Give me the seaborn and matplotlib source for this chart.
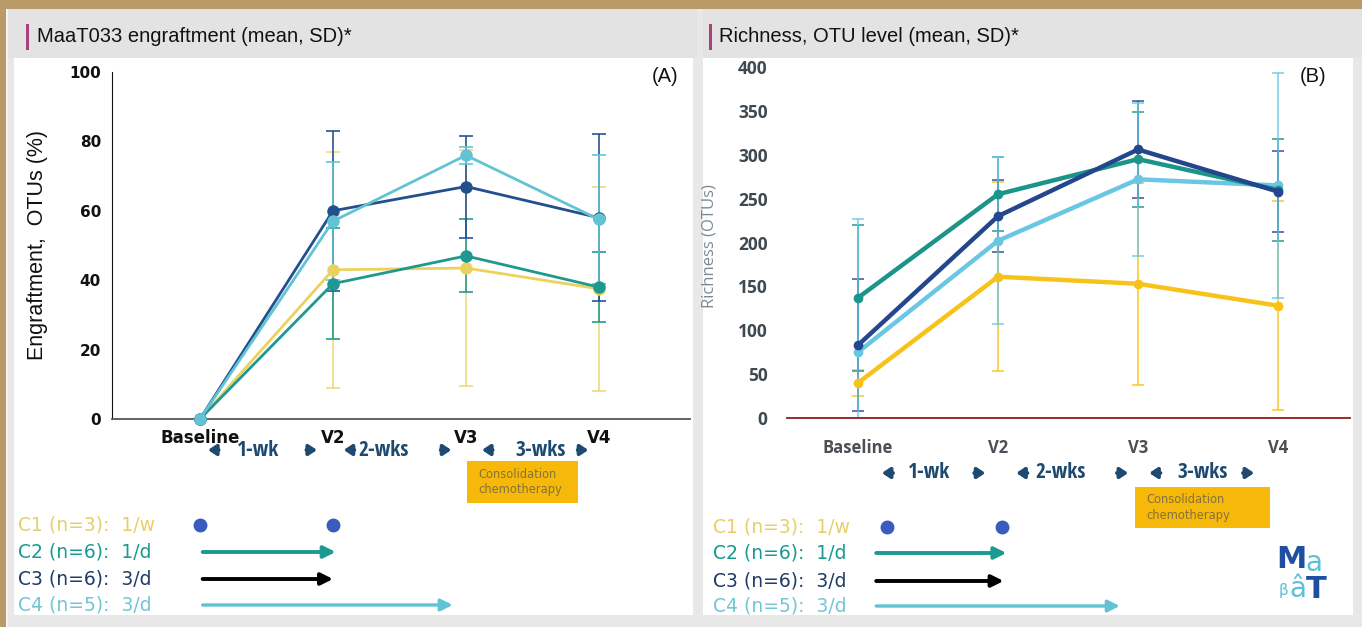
import numpy as np
import pandas as pd
import matplotlib
matplotlib.use("Agg")
import matplotlib.pyplot as plt
import matplotlib.transforms as mtransforms
from matplotlib.patches import Rectangle
from matplotlib import font_manager
import seaborn as sns

# ---------------- data ----------------
visits = ["Baseline", "V2", "V3", "V4"]
cohorts = ["C1", "C2", "C3", "C4"]

# Panel A: engraftment (%) mean and SD
engr_c1 = [0, 43, 43.5, 37.5]
engr_c2 = [0, 39, 47, 38]
engr_c3 = [0, 60, 67, 58]
engr_c4 = [0, 57, 76, 57.5]
engr_sd_c1 = [0, 34, 34, 29.5]
engr_sd_c2 = [0, 16, 10.5, 10]
engr_sd_c3 = [0, 23, 14.7, 24]
engr_sd_c4 = [0, 17, 2.5, 18.5]

# Panel B: richness (OTUs) mean and SD
rich_c1 = [40, 161, 153, 128]
rich_c2 = [137, 255, 295, 260]
rich_c3 = [83, 230, 306, 258]
rich_c4 = [75, 202, 272, 265]
rich_sd_c1 = [15, 108, 115, 119]
rich_sd_c2 = [83, 42, 54, 58]
rich_sd_c3 = [75, 41, 55, 46]
rich_sd_c4 = [152, 95, 87, 128]

legend_labels = ["C1 (n=3):  1/w", "C2 (n=6):  1/d", "C3 (n=6):  3/d", "C4 (n=5):  3/d"]
intervals = ["1-wk", "2-wks", "3-wks"]
yticks_a = [0, 20, 40, 60, 80, 100]
yticks_b = [0, 50, 100, 150, 200, 250, 300, 350, 400]

# ---------------- styling ----------------
pal_a = {"C1": "#ebd25e", "C2": "#1f9990", "C3": "#22508f", "C4": "#62c3d3"}
pal_b = {"C1": "#f7c21a", "C2": "#1b9489", "C3": "#23468c", "C4": "#6ac7e4"}
legend_cols = ["#e6cf6a", "#1a9a90", "#1f3b66", "#72c6d6"]
navy = "#1e4a72"

sns.set_style("white")
plt.rcParams["font.family"] = ["DejaVu Sans"]


def pick_font(cands, default="DejaVu Sans"):
    for c in cands:
        try:
            font_manager.findfont(font_manager.FontProperties(family=c),
                                  fallback_to_default=False)
            return c
        except Exception:
            pass
    return default


narrow = pick_font(["Liberation Sans Narrow", "Open Sans Condensed", "Roboto Condensed"],
                   "Open Sans")

W, H = 1362, 627
fig = plt.figure(figsize=(W / 100, H / 100), dpi=100)
fig.patch.set_facecolor("#e8e8e8")


def fx(x):
    return x / W


def fy(y):
    return 1 - y / H


def rect(x0, y0, x1, y1, color, z=-10):
    fig.patches.append(Rectangle((fx(x0), fy(y1)), fx(x1) - fx(x0), fy(y0) - fy(y1),
                                 transform=fig.transFigure, facecolor=color,
                                 edgecolor="none", zorder=z))


# frame / background
rect(0, 0, W, 9, "#b99a68")
rect(0, 0, 6, H, "#b99a68")
rect(6, 9, 8, H, "#f4f4f4")
rect(8, 9, 697, 58, "#e3e3e3")
rect(703, 9, W, 58, "#e3e3e3")
rect(14, 58, 693, 615, "#ffffff")
rect(703, 58, 1353, 615, "#ffffff")
rect(26, 24, 29, 50, "#a8407c")
rect(709, 24, 712, 50, "#a8407c")
fig.text(fx(37), fy(37), "MaaT033 engraftment (mean, SD)*", family="Liberation Sans",
         fontsize=14.5, va="center", ha="left", color="#111111")
fig.text(fx(719), fy(37), "Richness, OTU level (mean, SD)*", family="Liberation Sans",
         fontsize=14.5, va="center", ha="left", color="#111111")


def long_df(series):
    rows = []
    for c, vals in zip(cohorts, series):
        for v, val in zip(visits, vals):
            rows.append({"visit": v, "value": val, "cohort": c})
    return pd.DataFrame(rows)


# ---------------- Panel A ----------------
axA = fig.add_axes([fx(112), fy(419), fx(690) - fx(112), fy(72) - fy(419)])
axA.set_facecolor("none")
dfA = long_df([engr_c1, engr_c2, engr_c3, engr_c4])
sdA = [engr_sd_c1, engr_sd_c2, engr_sd_c3, engr_sd_c4]
meanA = [engr_c1, engr_c2, engr_c3, engr_c4]
xpos = np.arange(len(visits))
for c, m, s in zip(cohorts, meanA, sdA):
    s = np.array(s, dtype=float)
    mask = s > 0
    axA.errorbar(xpos[mask], np.array(m)[mask], yerr=s[mask], fmt="none",
                 ecolor=pal_a[c], elinewidth=1.3, capsize=5, capthick=1.3,
                 alpha=0.75 if c == "C1" else 0.9, zorder=2)
sns.lineplot(data=dfA, x="visit", y="value", hue="cohort", hue_order=cohorts,
             palette=pal_a, marker="o", markersize=9, markeredgewidth=0,
             linewidth=2, sort=False, legend=False, ax=axA, zorder=3)
for ln in axA.lines:
    ln.set_clip_on(False)
axA.set_xlim((112 - 200) / 133, (690 - 200) / 133)
axA.set_ylim(0, 100)
axA.set_yticks(yticks_a)
axA.set_yticklabels([str(t) for t in yticks_a], fontweight="bold", fontsize=11)
axA.set_xticks(xpos)
axA.set_xticklabels(visits, fontweight="bold", fontsize=12)
axA.tick_params(axis="both", direction="out", length=4, width=1, color="#333333",
                pad=3, labelcolor="#111111")
axA.tick_params(axis="y", pad=4)
for sp in ["top", "right"]:
    axA.spines[sp].set_visible(False)
axA.spines["left"].set_color("#111111")
axA.spines["bottom"].set_color("#555555")
axA.spines["bottom"].set_linewidth(1.3)
axA.set_xlabel("")
axA.set_ylabel("Engraftment,  OTUs (%)", family="Liberation Sans", fontsize=15.5,
               color="#111111")
axA.yaxis.set_label_coords((48 - 112) / 578, 0.5)
axA.text(fx(665), fy(76), "(A)", transform=fig.transFigure, family="Liberation Sans",
         fontsize=14.5, ha="center", va="center", color="#111111")

# ---------------- Panel B ----------------
axB = fig.add_axes([fx(787), fy(418), fx(1350) - fx(787), fy(67) - fy(418)])
axB.set_facecolor("none")
dfB = long_df([rich_c1, rich_c2, rich_c3, rich_c4])
sdB = [rich_sd_c1, rich_sd_c2, rich_sd_c3, rich_sd_c4]
meanB = [rich_c1, rich_c2, rich_c3, rich_c4]
for c, m, s in zip(cohorts, meanB, sdB):
    axB.errorbar(xpos, m, yerr=s, fmt="none", ecolor=pal_b[c], elinewidth=1.2,
                 capsize=4, capthick=1.2, alpha=0.85, zorder=2)
order_b = ["C1", "C4", "C2", "C3"]
sns.lineplot(data=dfB, x="visit", y="value", hue="cohort", hue_order=order_b,
             palette=pal_b, marker="o", markersize=7, markeredgewidth=0,
             linewidth=3.2, sort=False, legend=False, ax=axB, zorder=3)
axB.set_xlim((787 - 858) / 140, (1350 - 858) / 140)
axB.set_ylim(0, 400)
axB.set_yticks(yticks_b)
axB.set_yticklabels([str(t) for t in yticks_b], family="Open Sans", fontweight="bold",
                    fontsize=12.5, color="#3f4a50")
axB.set_xticks(xpos)
axB.set_xticklabels(visits, family="Open Sans", fontweight="bold", fontsize=12,
                    color="#4a5055")
axB.tick_params(axis="both", length=0)
axB.tick_params(axis="y", pad=14)
axB.tick_params(axis="x", pad=15)
for sp in ["top", "right", "left"]:
    axB.spines[sp].set_visible(False)
axB.spines["bottom"].set_color("#8b1c1c")
axB.spines["bottom"].set_linewidth(1.3)
axB.set_xlabel("")
axB.set_ylabel("Richness (OTUs)", family="Open Sans", fontsize=12, color="#7b8a92")
axB.yaxis.set_label_coords((717 - 787) / 563, 0.49)
axB.text(fx(1313), fy(76), "(B)", transform=fig.transFigure, family="Liberation Sans",
         fontsize=14.5, ha="center", va="center", color="#111111")


# ---------------- timeline annotations ----------------
def small_arrow(ax, tr, x_tail, x_tip, y, color, lw=2.8):
    ax.annotate("", xy=(x_tip, y), xytext=(x_tail, y), xycoords=tr, textcoords=tr,
                arrowprops=dict(arrowstyle="-|>,head_length=0.45,head_width=0.3",
                                color=color, lw=lw, shrinkA=0, shrinkB=0),
                annotation_clip=False)


def long_arrow(ax, tr, x0, x1, y, color, lw):
    ax.annotate("", xy=(x1, y), xytext=(x0, y), xycoords=tr, textcoords=tr,
                arrowprops=dict(arrowstyle="-|>,head_length=0.7,head_width=0.35",
                                color=color, lw=lw, shrinkA=0, shrinkB=0),
                annotation_clip=False)


def timeline(ax, y_int, text_off, arrow_l, arrow_r, box, y_box, leg_x, leg_y,
             dot_x, arrows_x, tl_size):
    tr = mtransforms.blended_transform_factory(ax.transData, fig.transFigure)
    for i, lab in enumerate(intervals):
        ax.text(i + text_off[i], fy(y_int), lab, transform=tr, ha="center", va="center",
                fontsize=tl_size, fontweight="bold", color=navy, clip_on=False,
                family=narrow)
        small_arrow(ax, tr, i + arrow_l[i] + 0.08, i + arrow_l[i], fy(y_int), navy)
        small_arrow(ax, tr, i + arrow_r[i] - 0.08, i + arrow_r[i], fy(y_int), navy)
    bx0, bx1 = box
    ax.add_patch(Rectangle((bx0, fy(y_box[1])), bx1 - bx0, fy(y_box[0]) - fy(y_box[1]),
                           transform=tr, facecolor="#f6b90a", edgecolor="none",
                           clip_on=False))
    ax.text(bx0 + 0.08, (fy(y_box[0]) + fy(y_box[1])) / 2, "Consolidation\nchemotherapy",
            transform=tr, ha="left", va="center", fontsize=8.3, color="#86723a",
            linespacing=1.3, clip_on=False)
    for lab, col, yy in zip(legend_labels, legend_cols, leg_y):
        fig.text(fx(leg_x), fy(yy), lab, ha="left", va="center", fontsize=13.5, color=col)
    # C1: weekly dosing dots
    ax.plot(dot_x, [fy(leg_y[0])] * len(dot_x), "o", color="#3a5bbf", markersize=9,
            transform=tr, clip_on=False)
    long_arrow(ax, tr, arrows_x[0][0], arrows_x[0][1], fy(leg_y[1]), "#1a9a90", 2.8)
    long_arrow(ax, tr, arrows_x[1][0], arrows_x[1][1], fy(leg_y[2]), "#000000", 2.8)
    long_arrow(ax, tr, arrows_x[2][0], arrows_x[2][1], fy(leg_y[3]), "#5fc3d3", 2.4)


timeline(axA, 450, [0.44, 0.38, 0.56], [0.06, 0.08, 0.12], [0.88, 0.89, 0.92],
         (2.01, 2.84), (461, 503), 18, [525, 552, 579, 605], [0.0, 1.0],
         [(0.02, 1.02), (0.02, 1.0), (0.02, 1.9)], 15.5)
timeline(axB, 473, [0.51, 0.45, 0.46], [0.17, 0.13, 0.08], [0.91, 0.93, 0.83],
         (1.98, 2.94), (487, 528), 713, [527, 553, 581, 606], [0.21, 1.03],
         [(0.13, 1.06), (0.13, 1.04), (0.13, 1.87)], 15.5)

# ---------------- logo ----------------
fig.text(fx(1276), fy(560), "M", fontsize=22, fontweight="bold", color="#1f4fa0",
         ha="left", va="center")
fig.text(fx(1305), fy(563), "a", fontsize=20, color="#5fc0d5", ha="left", va="center")
fig.text(fx(1279), fy(590), "β", fontsize=11, color="#5fc0d5", ha="left", va="center")
fig.text(fx(1289), fy(589), "â", fontsize=20, color="#5fc0d5", ha="left", va="center")
fig.text(fx(1306), fy(589), "T", fontsize=22, fontweight="bold", color="#1f4fa0",
         ha="left", va="center")

fig.savefig("out.png", dpi=100, facecolor=fig.get_facecolor())
